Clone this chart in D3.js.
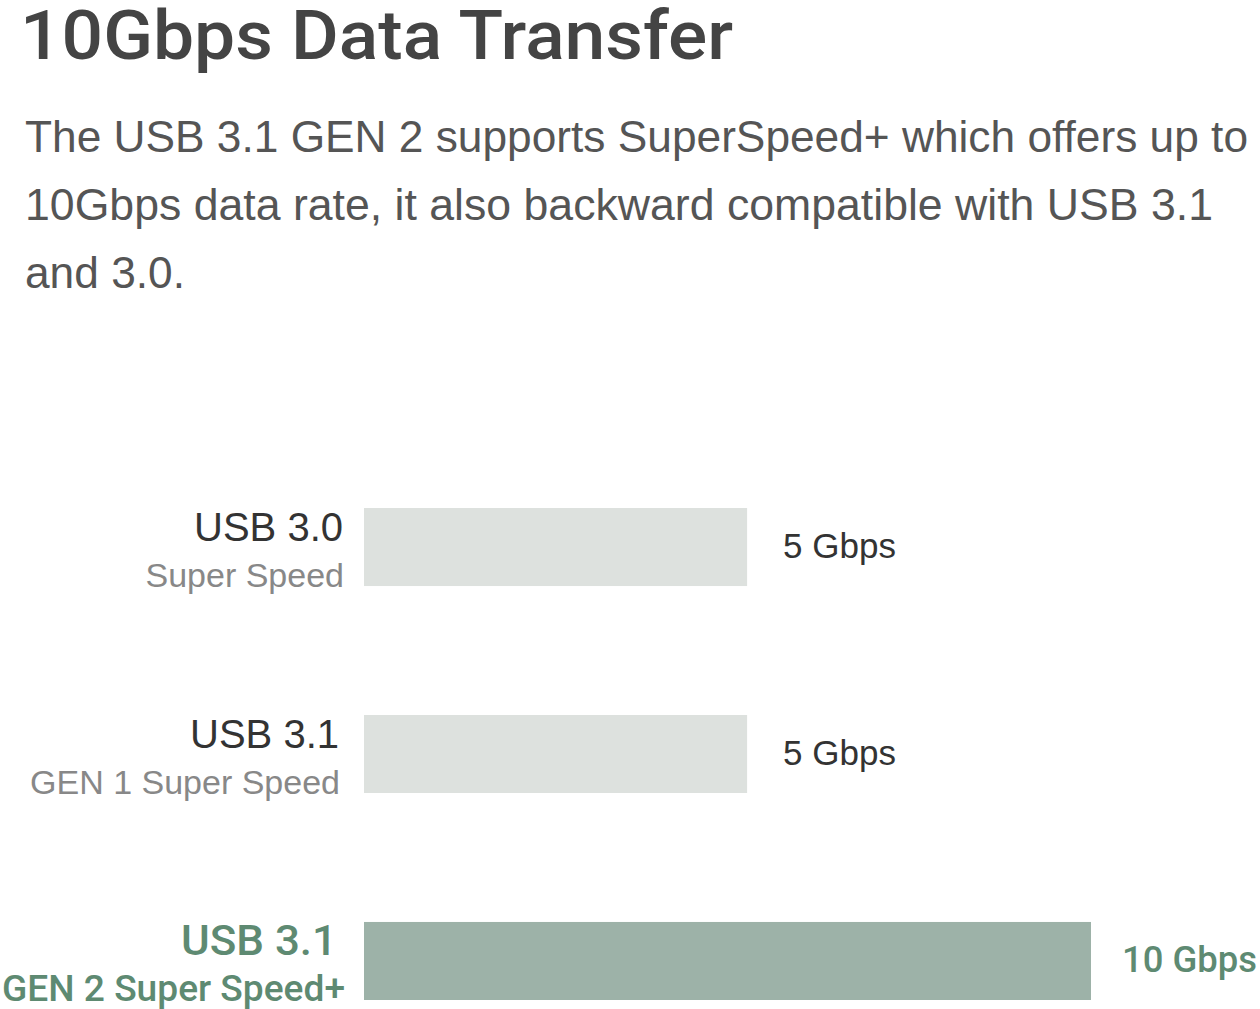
<!DOCTYPE html>
<html>
<head>
<meta charset="utf-8">
<script src="https://cdn.jsdelivr.net/npm/d3@7"></script>
<style>
  body { margin: 0; background: #fff; }
  svg { display: block; font-family: "Liberation Sans", Arial, sans-serif; }
</style>
</head>
<body>
<div id="drawing_region"></div>
<script>
const title = "10Gbps Data Transfer";
const descLines = [
    "The USB 3.1 GEN 2 supports SuperSpeed+ which offers up to",
    "10Gbps data rate, it also backward compatible with USB 3.1",
    "and 3.0."
];
const descWidths = [1223, 1188, 160];
const categories = ["USB 3.0", "USB 3.1", "USB 3.1"];
const subLabels = ["Super Speed", "GEN 1 Super Speed", "GEN 2 Super Speed+"];
const speeds = [5, 5, 10];
const valueLabels = ["5 Gbps", "5 Gbps", "10 Gbps"];
const highlight = [false, false, true];

const width = 1260, height = 1009;

const svg = d3.select("#drawing_region").append("svg")
    .attr("width", width)
    .attr("height", height);

svg.append("text")
    .attr("x", 20)
    .attr("y", 59)
    .attr("font-family", "Roboto, sans-serif")
    .attr("font-weight", 500)
    .attr("font-size", 68)
    .attr("textLength", 713)
    .attr("lengthAdjust", "spacingAndGlyphs")
    .attr("fill", "#444")
    .text(title);

svg.append("g").selectAll("text")
    .data(descLines)
    .join("text")
    .attr("x", 25)
    .attr("y", (d, i) => 152 + i * 68)
    .attr("font-size", 44)
    .attr("textLength", (d, i) => descWidths[i])
    .attr("lengthAdjust", "spacingAndGlyphs")
    .attr("fill", "#555")
    .text(d => d);

const rows = speeds.map((v, i) => ({ i, v, cat: categories[i], sub: subLabels[i], lab: valueLabels[i], hi: highlight[i] }));

const xscale = d3.scaleLinear().domain([-0.57, 10]).range([364, 1091]);
const yscale = d3.scaleBand()
    .domain(rows.map(d => d.i))
    .range([508, 1000])
    .paddingInner(0.623)
    .paddingOuter(0);

const chart = svg.append("g");

chart.selectAll("rect")
    .data(rows)
    .join("rect")
    .attr("x", xscale(xscale.domain()[0]))
    .attr("y", d => yscale(d.i))
    .attr("width", d => xscale(d.v) - xscale(xscale.domain()[0]))
    .attr("height", yscale.bandwidth())
    .attr("fill", d => d.hi ? "#9db2a8" : "#dde1de");

// highlighted row is drawn in a medium green face, stretched to the reference widths
const hiWidths = { cat: 156, sub: 343, val: 135 };

chart.selectAll(".cat")
    .data(rows)
    .join("text")
    .attr("class", "cat")
    .attr("x", d => d.hi ? 337 : (d.i === 0 ? 343 : 339))
    .attr("y", d => yscale(d.i) + 33)
    .attr("text-anchor", "end")
    .attr("font-size", d => d.hi ? 42 : 40)
    .attr("font-family", d => d.hi ? "Roboto, sans-serif" : null)
    .attr("font-weight", d => d.hi ? 500 : "normal")
    .attr("textLength", d => d.hi ? hiWidths.cat : null)
    .attr("lengthAdjust", "spacingAndGlyphs")
    .attr("fill", d => d.hi ? "#5e8a72" : "#333")
    .text(d => d.cat);

chart.selectAll(".sub")
    .data(rows)
    .join("text")
    .attr("class", "sub")
    .attr("x", d => d.hi ? 345 : (d.i === 0 ? 344 : 340))
    .attr("y", d => yscale(d.i) + 79)
    .attr("text-anchor", "end")
    .attr("font-size", d => d.hi ? 36 : 34)
    .attr("font-family", d => d.hi ? "Roboto, sans-serif" : null)
    .attr("font-weight", d => d.hi ? 500 : "normal")
    .attr("textLength", d => d.hi ? hiWidths.sub : null)
    .attr("lengthAdjust", "spacingAndGlyphs")
    .attr("fill", d => d.hi ? "#5e8a72" : "#888")
    .text(d => d.sub);

chart.selectAll(".val")
    .data(rows)
    .join("text")
    .attr("class", "val")
    .attr("x", d => xscale(d.v) + (d.hi ? 31 : 36))
    .attr("y", d => yscale(d.i) + 50)
    .attr("font-size", d => d.hi ? 36 : 35)
    .attr("font-family", d => d.hi ? "Roboto, sans-serif" : null)
    .attr("font-weight", d => d.hi ? 500 : "normal")
    .attr("textLength", d => d.hi ? hiWidths.val : null)
    .attr("lengthAdjust", "spacingAndGlyphs")
    .attr("fill", d => d.hi ? "#5e8a72" : "#333")
    .text(d => d.lab);
</script>
</body>
</html>
